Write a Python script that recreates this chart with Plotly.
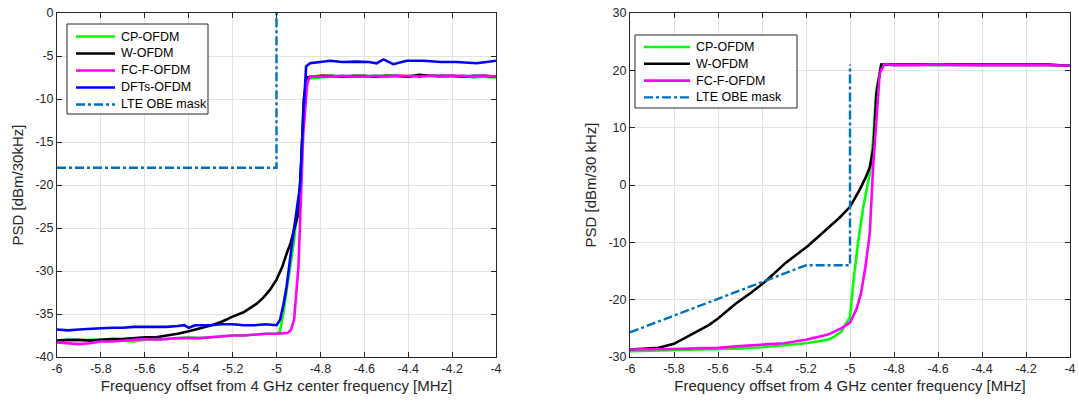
import plotly.graph_objects as go

# ---------------- Left panel data ----------------
L_cp_x = [-6.0, -5.95, -5.9, -5.85, -5.8, -5.75, -5.7, -5.65, -5.6, -5.55, -5.5, -5.45, -5.4, -5.35, -5.3, -5.25,
          -5.2, -5.15, -5.1, -5.05, -5.0, -4.984, -4.969, -4.946, -4.92, -4.893, -4.876, -4.862, -4.855,
          -4.8, -4.75, -4.7, -4.65, -4.6, -4.55, -4.5, -4.45, -4.4, -4.35, -4.3, -4.25, -4.2, -4.15, -4.1, -4.05, -4.0]
L_cp_y = [-38.2, -38.1, -38.1, -38.0, -38.0, -37.9, -38.1, -38.2, -38.0, -37.9, -37.9, -37.8, -37.7, -37.8, -37.7, -37.6,
          -37.5, -37.5, -37.4, -37.3, -37.3, -37.0, -34.9, -31.0, -26.4, -20.2, -12.0, -8.2, -7.6,
          -7.5, -7.4, -7.3, -7.4, -7.4, -7.3, -7.3, -7.4, -7.4, -7.3, -7.3, -7.4, -7.4, -7.3, -7.5, -7.4, -7.5]

L_w_x = [-6.0, -5.95, -5.9, -5.85, -5.8, -5.75, -5.7, -5.65, -5.6, -5.55, -5.5, -5.45, -5.4, -5.35, -5.3, -5.25,
         -5.2, -5.15, -5.12, -5.09, -5.06, -5.03, -5.0, -4.975, -4.954, -4.935, -4.92, -4.9, -4.888, -4.876, -4.862,
         -4.8, -4.75, -4.7, -4.65, -4.6, -4.55, -4.5, -4.45, -4.4, -4.35, -4.3, -4.25, -4.2, -4.15, -4.1, -4.05, -4.0]
L_w_y = [-38.1, -38.0, -38.0, -38.1, -38.0, -37.9, -37.9, -37.8, -37.7, -37.7, -37.5, -37.3, -37.0, -36.7, -36.35, -35.9,
         -35.3, -34.8, -34.35, -33.8, -33.1, -32.2, -31.0, -29.6, -28.0, -26.7, -25.2, -23.3, -17.9, -10.1, -7.5,
         -7.3, -7.3, -7.4, -7.3, -7.3, -7.4, -7.3, -7.3, -7.4, -7.2, -7.3, -7.3, -7.3, -7.4, -7.3, -7.3, -7.4]

L_fc_x = [-6.0, -5.95, -5.9, -5.85, -5.8, -5.75, -5.7, -5.65, -5.6, -5.55, -5.5, -5.45, -5.4, -5.35, -5.3, -5.25,
          -5.2, -5.15, -5.1, -5.05, -5.0, -4.95, -4.935, -4.92, -4.9, -4.89, -4.878, -4.86, -4.848,
          -4.8, -4.75, -4.7, -4.65, -4.6, -4.55, -4.5, -4.45, -4.4, -4.35, -4.3, -4.25, -4.2, -4.15, -4.1, -4.05, -4.0]
L_fc_y = [-38.3, -38.4, -38.5, -38.4, -38.2, -38.2, -38.1, -38.0, -37.9, -38.0, -37.9, -37.8, -37.8, -37.8, -37.7, -37.6,
          -37.5, -37.5, -37.4, -37.3, -37.3, -37.2, -36.9, -35.7, -29.5, -21.7, -14.0, -8.2, -7.4,
          -7.4, -7.4, -7.3, -7.4, -7.4, -7.3, -7.4, -7.3, -7.3, -7.4, -7.3, -7.4, -7.3, -7.3, -7.4, -7.3, -7.4]

L_dft_x = [-6.0, -5.95, -5.9, -5.85, -5.8, -5.75, -5.7, -5.65, -5.6, -5.55, -5.5, -5.45, -5.42, -5.4, -5.37, -5.3, -5.25,
           -5.2, -5.15, -5.1, -5.05, -5.0, -4.984, -4.969, -4.954, -4.923, -4.893, -4.878, -4.865, -4.847,
           -4.8, -4.756, -4.7, -4.635, -4.58, -4.544, -4.513, -4.468, -4.407, -4.33, -4.25, -4.18, -4.088, -4.0]
L_dft_y = [-36.8, -36.9, -36.8, -36.7, -36.65, -36.6, -36.6, -36.5, -36.5, -36.5, -36.5, -36.4, -36.3, -36.6, -36.3, -36.3, -36.2,
           -36.2, -36.3, -36.3, -36.2, -36.3, -35.7, -34.0, -31.8, -25.6, -20.2, -12.0, -6.2, -5.85,
           -5.7, -5.55, -5.7, -5.65, -5.7, -5.85, -5.4, -5.95, -5.55, -5.55, -5.7, -5.7, -5.85, -5.55]

L_mask_x = [-6.0, -5.0, -5.0]
L_mask_y = [-18.0, -18.0, 0.0]

# ---------------- Right panel data ----------------
R_cp_x = [-6.0, -5.9, -5.8, -5.7, -5.6, -5.5, -5.4, -5.3, -5.2, -5.15, -5.1, -5.07, -5.04, -5.0, -4.985, -4.964,
          -4.94, -4.91, -4.895, -4.88, -4.858, -4.8, -4.7, -4.6, -4.5, -4.4, -4.3, -4.2, -4.1, -4.0]
R_cp_y = [-29.0, -28.9, -28.9, -28.7, -28.6, -28.5, -28.3, -28.0, -27.6, -27.3, -27.0, -26.4, -25.6, -23.0, -17.0, -10.2,
          -3.9, 2.0, 7.8, 16.6, 21.0, 20.9, 21.0, 20.9, 21.0, 20.9, 20.9, 21.0, 20.9, 20.8]

R_w_x = [-6.0, -5.93, -5.87, -5.8, -5.72, -5.64, -5.6, -5.52, -5.45, -5.39, -5.29, -5.19, -5.1, -5.05, -5.0,
         -4.957, -4.93, -4.91, -4.893, -4.88, -4.858, -4.8, -4.7, -4.6, -4.5, -4.4, -4.3, -4.2, -4.1, -4.0]
R_w_y = [-28.7, -28.5, -28.4, -27.7, -26.1, -24.4, -23.3, -20.7, -18.8, -17.0, -13.5, -10.6, -7.5, -5.8, -3.8,
         -0.9, 1.2, 3.1, 6.6, 16.0, 21.0, 21.0, 20.9, 21.0, 20.9, 20.9, 21.0, 20.9, 21.0, 20.8]

R_fc_x = [-6.0, -5.9, -5.8, -5.7, -5.6, -5.5, -5.4, -5.3, -5.2, -5.15, -5.1, -5.04, -5.0, -4.972, -4.95,
          -4.93, -4.91, -4.895, -4.88, -4.865, -4.843, -4.8, -4.7, -4.6, -4.5, -4.4, -4.3, -4.2, -4.1, -4.0]
R_fc_y = [-28.7, -28.7, -28.6, -28.5, -28.4, -28.1, -27.9, -27.6, -27.0, -26.6, -26.1, -25.0, -24.0, -21.8, -18.9,
          -14.3, -8.4, 3.1, 11.8, 19.5, 21.1, 20.9, 20.9, 21.0, 20.9, 20.9, 21.0, 20.9, 20.9, 20.8]

R_mask_x = [-6.0, -5.2, -5.0, -5.0]
R_mask_y = [-25.7, -14.0, -14.0, 21.0]

x_ticks = [-6, -5.8, -5.6, -5.4, -5.2, -5, -4.8, -4.6, -4.4, -4.2, -4]
x_ticktext = ["-6", "-5.8", "-5.6", "-5.4", "-5.2", "-5", "-4.8", "-4.6", "-4.4", "-4.2", "-4"]
L_y_ticks = [0, -5, -10, -15, -20, -25, -30, -35, -40]
L_y_ticktext = ["0", "-5", "-10", "-15", "-20", "-25", "-30", "-35", "-40"]
R_y_ticks = [30, 20, 10, 0, -10, -20, -30]
R_y_ticktext = ["30", "20", "10", "0", "-10", "-20", "-30"]

# ---------------- Figure ----------------
GREEN, BLACK, MAGENTA, BLUE, MASK = "#00ff00", "#000000", "#ff00ff", "#0000ff", "#0072bd"
LW = 2.6
MASK_W = 2.4
W, H = 1079, 405
FONT = "Liberation Sans, Arial, sans-serif"
TXT = "#262626"

fig = go.Figure()
left_entries, right_entries = [], []

def add(x, y, name, color, xa, ya, entries, dash="solid", width=LW):
    fig.add_trace(go.Scatter(x=x, y=y, mode="lines", name=name, xaxis=xa, yaxis=ya, showlegend=False,
                             line=dict(color=color, width=width, dash=dash)))
    entries.append((name, color, dash, width))

add(L_cp_x, L_cp_y, "CP-OFDM", GREEN, "x", "y", left_entries)
add(L_w_x, L_w_y, "W-OFDM", BLACK, "x", "y", left_entries)
add(L_fc_x, L_fc_y, "FC-F-OFDM", MAGENTA, "x", "y", left_entries)
add(L_dft_x, L_dft_y, "DFTs-OFDM", BLUE, "x", "y", left_entries)
add(L_mask_x, L_mask_y, "LTE OBE mask", MASK, "x", "y", left_entries, dash="dashdot", width=MASK_W)

add(R_cp_x, R_cp_y, "CP-OFDM", GREEN, "x2", "y2", right_entries)
add(R_w_x, R_w_y, "W-OFDM", BLACK, "x2", "y2", right_entries)
add(R_fc_x, R_fc_y, "FC-F-OFDM", MAGENTA, "x2", "y2", right_entries)
add(R_mask_x, R_mask_y, "LTE OBE mask", MASK, "x2", "y2", right_entries, dash="dashdot", width=MASK_W)

# MATLAB-style legend boxes (pixel geometry -> paper coords)
shapes, annotations = [], []

def px(x):
    return x / W

def py(y):
    return 1 - y / H

def legend_box(entries, box, line_x0, line_x1, text_x, y0, step):
    bx0, by0, bx1, by1 = box
    shapes.append(dict(type="rect", xref="paper", yref="paper", x0=px(bx0), x1=px(bx1), y0=py(by0), y1=py(by1),
                       line=dict(color=TXT, width=1), fillcolor="white", layer="above"))
    for i, (name, color, dash, width) in enumerate(entries):
        yc = y0 + i * step
        shapes.append(dict(type="line", xref="paper", yref="paper", x0=px(line_x0), x1=px(line_x1),
                           y0=py(yc), y1=py(yc), line=dict(color=color, width=width, dash=dash), layer="above"))
        annotations.append(dict(text=name, xref="paper", yref="paper", x=px(text_x), y=py(yc),
                                xanchor="left", yanchor="middle", showarrow=False,
                                font=dict(family=FONT, size=12.5, color="#000000")))

legend_box(left_entries, (67, 24, 208, 114), 76, 115, 119, 36.5, 17.0)
legend_box(right_entries, (635, 35, 797, 108), 644, 690, 694, 47.0, 16.8)

axis_common = dict(showline=True, linecolor=TXT, linewidth=1, mirror="ticks", ticks="inside", ticklen=5,
                   tickcolor=TXT, showgrid=True, gridcolor="#e3e3e3", gridwidth=1, zeroline=False,
                   tickfont=dict(family=FONT, size=12.5, color=TXT), automargin=False)

TITLE_FONT = dict(family=FONT, size=15, color=TXT)
xtitle = dict(text="Frequency offset from 4 GHz center frequency [MHz]", font=TITLE_FONT, standoff=5)

fig.update_layout(
    width=W, height=H, margin=dict(l=0, r=0, t=0, b=0),
    paper_bgcolor="white", plot_bgcolor="white",
    font=dict(family=FONT, color=TXT),
    showlegend=False,
    xaxis=dict(domain=[57 / W, 496 / W], range=[-6, -4], tickvals=x_ticks, ticktext=x_ticktext,
               title=xtitle, anchor="y", **axis_common),
    yaxis=dict(domain=[1 - 357 / H, 1 - 13 / H], range=[-40, 0], tickvals=L_y_ticks, ticktext=L_y_ticktext,
               title=dict(text="PSD [dBm/30kHz]", font=TITLE_FONT, standoff=8),
               anchor="x", **axis_common),
    xaxis2=dict(domain=[630 / W, 1070 / W], range=[-6, -4], tickvals=x_ticks, ticktext=x_ticktext,
                title=xtitle, anchor="y2", **axis_common),
    yaxis2=dict(domain=[1 - 357 / H, 1 - 13 / H], range=[-30, 30], tickvals=R_y_ticks, ticktext=R_y_ticktext,
                title=dict(text="PSD [dBm/30 kHz]", font=TITLE_FONT, standoff=8),
                anchor="x2", **axis_common),
    shapes=shapes,
    annotations=annotations,
)

fig.write_html("out.html")
